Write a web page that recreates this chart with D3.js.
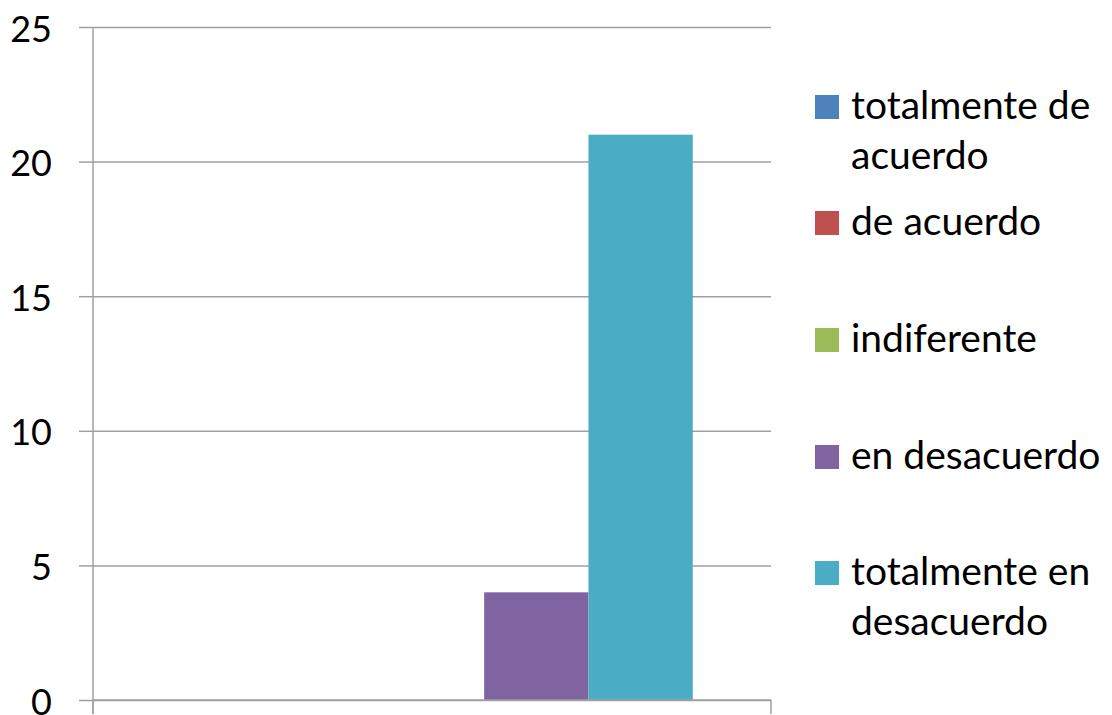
<!DOCTYPE html>
<html><head><meta charset="utf-8">
<script src="https://cdn.jsdelivr.net/npm/d3@7"></script>
<style>body{margin:0;background:#fff}svg{display:block}text{font-family:Lato,"Open Sans",sans-serif;fill:#000}</style>
</head><body><svg id="c" width="1112" height="715"></svg>
<script>
const categories = [""];
const seriesNames = ["totalmente de acuerdo","de acuerdo","indiferente","en desacuerdo","totalmente en desacuerdo"];
const seriesLegendLines = [["totalmente de","acuerdo"],["de acuerdo"],["indiferente"],["en desacuerdo"],["totalmente en","desacuerdo"]];
const seriesValues = [0, 0, 0, 4, 21];
const seriesColors = ["#4F81BD","#C0504D","#9BBB59","#8064A2","#4BACC6"];
const yTicks = [0,5,10,15,20,25];

const svg = d3.select("#c");
const L = 93, R = 771, T = 27, B = 700;
const y = d3.scaleLinear().domain([0,25]).range([B,T]);
const x0 = d3.scaleBand().domain(categories).range([L,R]).paddingInner(0).paddingOuter(0);
const x1 = d3.scaleBand().domain(seriesNames).range([0,x0.bandwidth()]).paddingInner(0).paddingOuter(0.75);
const grey = "#a0a0a0";

// gridlines
const grid = svg.append("g").attr("transform",`translate(${L},0)`)
  .call(d3.axisLeft(y).tickValues(yTicks).tickSize(-(R-L)).tickFormat(""));
grid.select(".domain").remove();
grid.selectAll("line").attr("stroke",grey).attr("stroke-width",1.5);

// bars
svg.append("g").selectAll("g").data(categories).join("g")
  .attr("transform",d=>`translate(${x0(d)},0)`)
  .selectAll("rect").data(()=>seriesNames.map((s,i)=>({s,v:seriesValues[i],c:seriesColors[i]})))
  .join("rect")
  .attr("x",d=>x1(d.s)).attr("width",x1.bandwidth())
  .attr("y",d=>y(d.v)).attr("height",d=>y(0)-y(d.v))
  .attr("fill",d=>d.c);

// y axis
const ya = svg.append("g").attr("transform",`translate(${L},0)`)
  .call(d3.axisLeft(y).tickValues(yTicks).tickSize(14).tickPadding(27).tickFormat(d3.format("d")));
ya.select(".domain").remove();
ya.selectAll("line").attr("stroke",grey).attr("stroke-width",1.5);
ya.selectAll("text").attr("font-size",36).attr("font-family","Lato").attr("dy",null).attr("dominant-baseline","central").attr("fill","#000");
svg.append("line").attr("x1",L).attr("x2",L).attr("y1",T).attr("y2",B+14).attr("stroke",grey).attr("stroke-width",1.5);

// x axis
svg.append("line").attr("x1",L).attr("x2",R).attr("y1",B).attr("y2",B).attr("stroke",grey).attr("stroke-width",1.5);
[L,R].forEach(xx=>svg.append("line").attr("x1",xx).attr("x2",xx).attr("y1",B).attr("y2",B+14).attr("stroke",grey).attr("stroke-width",1.5));

// legend
const baselines = [119,235,352,469,585];
const lg = svg.append("g");
seriesNames.forEach((s,i)=>{
  lg.append("rect").attr("x",815).attr("y",baselines[i]-24).attr("width",24).attr("height",24).attr("fill",seriesColors[i]);
  const t = lg.append("text").attr("x",851).attr("y",baselines[i]).attr("font-size",39);
  seriesLegendLines[i].forEach((ln,j)=>t.append("tspan").attr("x",851).attr("dy",j?50:0).text(ln));
});
</script></body></html>
